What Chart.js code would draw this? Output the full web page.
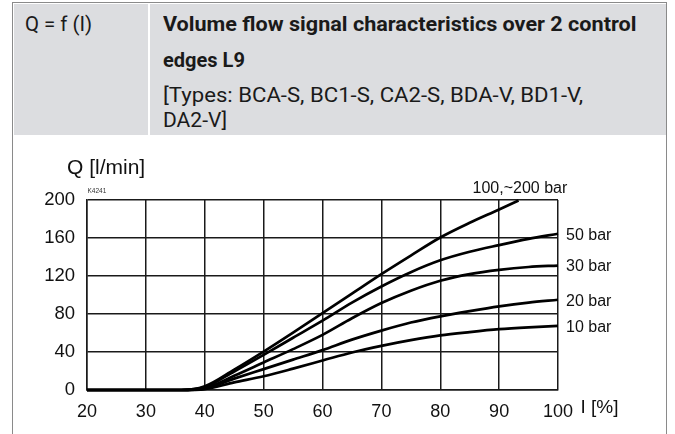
<!DOCTYPE html>
<html>
<head>
<meta charset="utf-8">
<script src="https://cdn.jsdelivr.net/npm/chart.js@4/dist/chart.umd.min.js"></script>
<style>
  html, body { margin: 0; padding: 0; background: #ffffff; }
  body { width: 675px; height: 434px; position: relative; overflow: hidden; }
  .frame { position: absolute; left: 12px; top: 2px; width: 653px; height: 450px;
           border: 1.5px solid #8a8a8a; border-bottom: none; box-sizing: content-box; }
  .hdr { position: absolute; left: 13.5px; top: 3.5px; width: 652px; height: 131.5px; background: #dcdde0; }
  .divider { position: absolute; left: 147.5px; top: 3.5px; width: 2px; height: 131.5px; background: #ffffff; }
  .t { position: absolute; white-space: nowrap; display: inline-block; font-family: Roboto, "Liberation Sans", sans-serif;
       font-size: 20.5px; line-height: 20.5px; color: #1a1a1a; transform-origin: 0 0; }
  .b { font-weight: bold; }
  canvas { position: absolute; left: 0; top: 0; }
</style>
</head>
<body>
<div class="frame"></div>
<div class="hdr"></div>
<div class="divider"></div>
<div class="t" data-w="66.7" style="left:25px; top:13.5px;">Q = f (I)</div>
<div class="t b" data-w="473" style="left:163px; top:13.5px;">Volume flow signal characteristics over 2 control</div>
<div class="t b" data-w="82" style="left:163px; top:49.5px;">edges L9</div>
<div class="t" data-w="420" style="left:163px; top:84.5px;">[Types: BCA-S, BC1-S, CA2-S, BDA-V, BD1-V,</div>
<div class="t" data-w="63.7" style="left:163px; top:109.5px;">DA2-V]</div>
<canvas id="c" width="675" height="434"></canvas>
<script>
// ---- data ----
const currentPct = [20, 36, 40, 45, 50, 55, 60, 65, 70, 75, 80, 85, 90, 95, 100];
const flow10bar  = [0, 0, 1, 8, 14.5, 22.5, 31, 39.5, 46.5, 52.5, 57.5, 61, 64, 66, 67.5];
const flow20bar  = [0, 0, 1.5, 12, 22, 32, 42, 53, 62.5, 71, 77.5, 83, 88, 92, 95];
const flow30bar  = [0, 0, 2, 15, 29, 43, 58, 75.5, 91.5, 104.5, 115, 122, 126.5, 129.5, 131];
const flow50bar  = [0, 0, 3, 19.5, 37, 55, 73, 92, 109, 124, 136.5, 145.5, 152.5, 159, 164.5];
const currentPctTop = [20, 36, 40, 45, 50, 55, 60, 65, 70, 75, 80, 85, 90, 93.3];
const flow200bar = [0, 0, 4, 21.5, 40.5, 60.5, 81, 101.5, 122, 141.5, 160.5, 176, 190, 199.5];
const seriesLabels = ['10 bar', '20 bar', '30 bar', '50 bar', '100,~200 bar'];
const xTicks = [20, 30, 40, 50, 60, 70, 80, 90, 100];
const yLabelTicks = [0, 40, 80, 120, 160, 200];
const xAxisTitle = 'I [%]';
const yAxisTitle = 'Q [l/min]';
const drawingCode = 'K4241';

// condense header text to the reference widths
document.querySelectorAll('.t').forEach(el => {
  const w = el.offsetWidth;
  const target = parseFloat(el.getAttribute('data-w'));
  if (w > 0) el.style.transform = 'scaleX(' + (target / w) + ')';
});

function pts(xs, ys) { return xs.map((x, i) => ({ x: x, y: ys[i] })); }

const lineStyle = { borderColor: '#000000', borderWidth: 2.7, pointRadius: 0, fill: false,
                    cubicInterpolationMode: 'monotone', clip: false };

const datasets = [
  Object.assign({ label: seriesLabels[0], data: pts(currentPct, flow10bar) }, lineStyle),
  Object.assign({ label: seriesLabels[1], data: pts(currentPct, flow20bar) }, lineStyle),
  Object.assign({ label: seriesLabels[2], data: pts(currentPct, flow30bar) }, lineStyle),
  Object.assign({ label: seriesLabels[3], data: pts(currentPct, flow50bar) }, lineStyle),
  Object.assign({ label: seriesLabels[4], data: pts(currentPctTop, flow200bar) }, lineStyle)
];

const FONT = '"Liberation Sans", Arial, sans-serif';

const labelsPlugin = {
  id: 'labels',
  afterDatasetsDraw(chart) {
    const ctx = chart.ctx;
    const xs = chart.scales.x, ys = chart.scales.y;
    ctx.save();
    ctx.fillStyle = '#111111';
    ctx.textAlign = 'left';
    ctx.textBaseline = 'middle';
    ctx.font = '16px ' + FONT;
    for (let i = 0; i < 4; i++) {
      const d = chart.data.datasets[i].data;
      const last = d[d.length - 1];
      ctx.fillText(seriesLabels[i], xs.right + 8, ys.getPixelForValue(last.y) + 1.5);
    }
    const dTop = chart.data.datasets[4].data;
    const lastTop = dTop[dTop.length - 1];
    ctx.textBaseline = 'alphabetic';
    ctx.fillText(seriesLabels[4], xs.getPixelForValue(lastTop.x) - 46, ys.top - 7);
    ctx.font = '21px ' + FONT;
    ctx.fillText(yAxisTitle, 67, ys.top - 26);
    ctx.font = '19px ' + FONT;
    ctx.fillText(xAxisTitle, xs.right + 22.5, ys.bottom + 23);
    ctx.font = '6.5px ' + FONT;
    ctx.fillStyle = '#333333';
    ctx.fillText(drawingCode, xs.left + 0.5, ys.top - 7);
    ctx.restore();
  }
};

new Chart(document.getElementById('c'), {
  type: 'line',
  data: { datasets: datasets },
  options: {
    responsive: false,
    animation: false,
    devicePixelRatio: 1,
    layout: { padding: { left: 0, top: 200, right: 117, bottom: 0 } },
    plugins: { legend: { display: false }, tooltip: { enabled: false } },
    scales: {
      x: {
        type: 'linear', min: 20, max: 100,
        afterFit(s) { s.height = 44; },
        afterBuildTicks(s) { s.ticks = xTicks.map(v => ({ value: v })); },
        grid: { color: '#1a1a1a', lineWidth: 1.5, drawTicks: false },
        border: { color: '#1a1a1a', width: 1.5 },
        ticks: { color: '#111111', font: { family: FONT, size: 18 }, padding: 11, maxRotation: 0,
                 callback: v => String(v) }
      },
      y: {
        type: 'linear', min: 0, max: 200,
        afterFit(s) { s.width = 87; },
        ticks: { stepSize: 20, color: '#111111', font: { family: FONT, size: 18.5 }, padding: 12,
                 callback: v => (yLabelTicks.indexOf(v) >= 0 ? String(v) : '') },
        grid: { color: '#1a1a1a', lineWidth: 1.5, drawTicks: false },
        border: { color: '#1a1a1a', width: 1.5 }
      }
    }
  },
  plugins: [labelsPlugin]
});
</script>
</body>
</html>
